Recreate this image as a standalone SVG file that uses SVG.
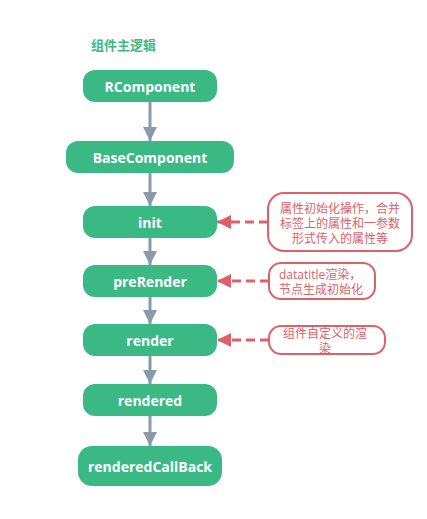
<svg xmlns="http://www.w3.org/2000/svg" width="427" height="519" viewBox="0 0 427 519">
<defs>
<style>
.node rect{fill:#3bb985;}
.node text{fill:#ffffff;font-family:"Open Sans","Noto Sans",sans-serif;font-weight:bold;font-size:14px;text-anchor:middle;dominant-baseline:central;}
.note rect{fill:#ffffff;stroke:#e0606a;stroke-width:2;}
.note text{fill:#e0606a;font-family:"Open Sans","Noto Sans CJK SC",sans-serif;font-size:12px;dominant-baseline:central;}
.flow{stroke:#8a9aa8;stroke-width:3;fill:none;}
.dash{stroke:#e0606a;stroke-width:3;fill:none;stroke-dasharray:9,5;}
.title{fill:#3bb985;font-family:"Noto Sans CJK SC",sans-serif;font-weight:bold;font-size:13px;dominant-baseline:central;}
</style>
<marker id="ag" markerUnits="userSpaceOnUse" markerWidth="16" markerHeight="14" refX="14" refY="7" orient="auto"><path d="M0,0 L14,7 L0,14 Z" fill="#8a9aa8"/></marker>
<marker id="ar" markerUnits="userSpaceOnUse" markerWidth="16" markerHeight="14" refX="14" refY="7" orient="auto"><path d="M0,0 L14,7 L0,14 Z" fill="#e0606a"/></marker>
</defs>
<rect width="427" height="519" fill="#ffffff"/>
<text class="title" x="91" y="44">组件主逻辑</text>
<g id="connectors">
<line class="flow" x1="150" y1="102" x2="150" y2="141" marker-end="url(#ag)"/>
<line class="flow" x1="150" y1="173" x2="150" y2="206" marker-end="url(#ag)"/>
<line class="flow" x1="150" y1="238" x2="150" y2="265" marker-end="url(#ag)"/>
<line class="flow" x1="150" y1="297" x2="150" y2="324" marker-end="url(#ag)"/>
<line class="flow" x1="150" y1="356" x2="150" y2="384" marker-end="url(#ag)"/>
<line class="flow" x1="150" y1="416" x2="150" y2="446" marker-end="url(#ag)"/>
<line class="dash" x1="268" y1="222" x2="217" y2="222" marker-end="url(#ar)"/>
<line class="dash" x1="269" y1="281" x2="217" y2="281" marker-end="url(#ar)"/>
<line class="dash" x1="269" y1="340" x2="217" y2="340" marker-end="url(#ar)"/>
</g>
<g id="RComponent" class="node"><rect x="83" y="70" width="134" height="32" rx="12"/><text x="150" y="86">RComponent</text></g>
<g id="BaseComponent" class="node"><rect x="66" y="141" width="168" height="32" rx="12"/><text x="150" y="157">BaseComponent</text></g>
<g id="init" class="node"><rect x="83" y="206" width="134" height="32" rx="12"/><text x="150" y="222">init</text></g>
<g id="preRender" class="node"><rect x="83" y="265" width="134" height="32" rx="12"/><text x="150" y="281">preRender</text></g>
<g id="render" class="node"><rect x="83" y="324" width="134" height="32" rx="12"/><text x="150" y="340">render</text></g>
<g id="rendered" class="node"><rect x="83" y="384" width="134" height="32" rx="12"/><text x="150" y="400">rendered</text></g>
<g id="renderedCallBack" class="node"><rect x="78" y="446" width="144" height="40" rx="14"/><text x="150" y="466">renderedCallBack</text></g>
<g id="note-init" class="note"><rect x="268" y="193" width="144" height="58" rx="16"/>
<text x="340" y="208" text-anchor="middle">属性初始化操作，合并</text>
<text x="340" y="223" text-anchor="middle">标签上的属性和一参数</text>
<text x="340" y="238" text-anchor="middle">形式传入的属性等</text></g>
<g id="note-preRender" class="note"><rect x="269" y="263" width="106" height="36" rx="12"/>
<text x="279" y="274">datatitle渲染，</text>
<text x="279" y="289">节点生成初始化</text></g>
<g id="note-render" class="note"><rect x="269" y="326" width="116" height="28" rx="12"/>
<text x="325" y="333" text-anchor="middle">组件自定义的渲</text>
<text x="325" y="348" text-anchor="middle">染</text></g>
</svg>
